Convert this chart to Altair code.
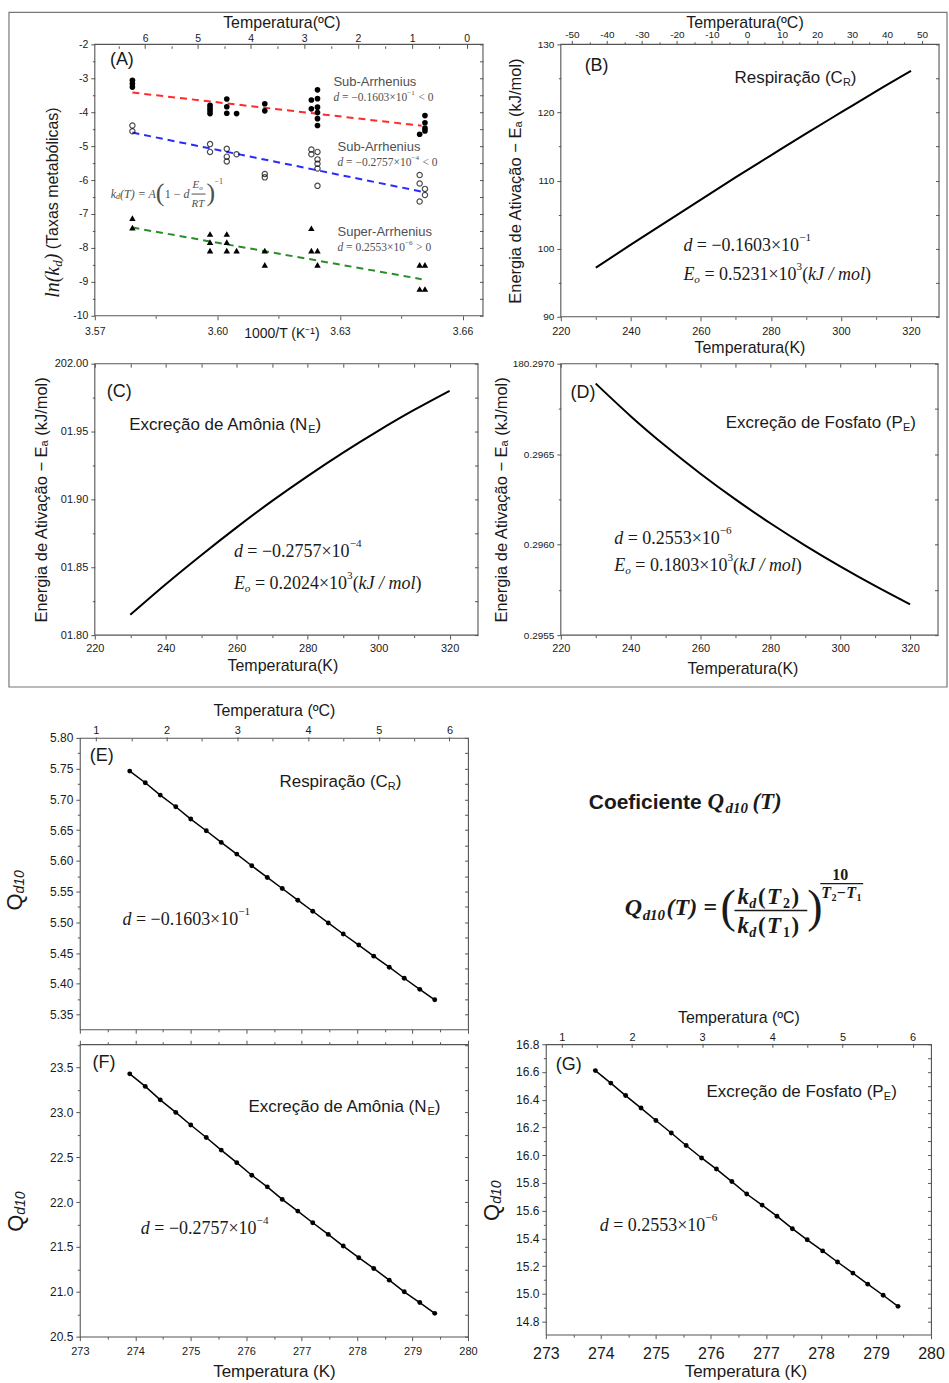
import altair as alt
import pandas as pd

SANS = "Liberation Sans"
SERIF = "Liberation Serif"
AXC = "#555555"
TXT = "#1a1a1a"
GRAY = "#505050"

# ---------------- Panel A: ln(kd) vs 1000/T ----------------
resp_x = [3.5792, 3.5792, 3.5792, 3.5982, 3.5982, 3.5982, 3.5982, 3.6023, 3.6023, 3.6023,
          3.6047, 3.6116, 3.6116, 3.6230, 3.6230, 3.6245, 3.6245, 3.6245, 3.6245, 3.6245,
          3.6245, 3.6495, 3.6508, 3.6508, 3.6508, 3.6508]
resp_y = [-3.06, -3.16, -3.26, -3.80, -3.88, -3.96, -4.04, -3.61, -3.84, -4.03,
          -4.04, -3.75, -3.96, -3.64, -3.90, -3.34, -3.60, -3.85, -4.01, -4.19,
          -4.39, -4.65, -4.10, -4.31, -4.47, -4.55]
amm_x = [3.5792, 3.5792, 3.5982, 3.5982, 3.6023, 3.6023, 3.6023, 3.6047, 3.6116, 3.6116,
         3.6230, 3.6230, 3.6245, 3.6245, 3.6245, 3.6245, 3.6245, 3.6495, 3.6495, 3.6495,
         3.6508, 3.6508]
amm_y = [-4.39, -4.56, -4.94, -5.17, -5.08, -5.31, -5.45, -5.24, -5.82, -5.92,
         -5.10, -5.24, -5.17, -5.39, -5.52, -5.66, -6.17, -5.85, -6.10, -6.63,
         -6.26, -6.44]
phos_x = [3.5792, 3.5792, 3.5982, 3.5982, 3.5982, 3.6023, 3.6023, 3.6023, 3.6047, 3.6116,
          3.6116, 3.6230, 3.6230, 3.6245, 3.6245, 3.6495, 3.6495, 3.6508, 3.6508]
phos_y = [-7.12, -7.40, -7.59, -7.83, -8.08, -7.59, -7.83, -8.08, -8.08, -8.08,
          -8.50, -7.42, -8.08, -8.08, -8.50, -8.50, -9.21, -8.50, -9.21]
fit_x = [3.5792, 3.6500]
fit_resp = [-3.42, -4.40]
fit_amm = [-4.60, -6.34]
fit_phos = [-7.40, -8.92]

# ---------------- Panels B-D: activation energy vs T ----------------
T_ea = [230, 240, 250, 260, 270, 280, 290, 300, 310, 320]
ea_resp = [97.2, 100.6, 103.9, 107.2, 110.5, 113.7, 116.9, 120.0, 123.1, 126.1]
ea_amm = [201.815, 201.8375, 201.8589, 201.8794, 201.8989, 201.9172, 201.9345, 201.9507,
          201.9659, 201.980]
ea_phos = [180.29689, 180.29671, 180.296545, 180.296392, 180.29625, 180.296118, 180.295995,
           180.29588, 180.295772, 180.29567]

# ---------------- Panels E-G: Qd10 vs T ----------------
T_q = [273.90, 274.18, 274.45, 274.73, 275.00, 275.28, 275.55, 275.83, 276.10, 276.38, 276.65,
       276.93, 277.20, 277.48, 277.75, 278.03, 278.30, 278.58, 278.85, 279.13, 279.40]
q_resp = [5.746, 5.727, 5.707, 5.688, 5.668, 5.649, 5.630, 5.611, 5.592, 5.573, 5.555,
          5.536, 5.518, 5.499, 5.481, 5.463, 5.445, 5.427, 5.409, 5.391, 5.374]
q_amm = [23.43, 23.29, 23.14, 23.00, 22.86, 22.72, 22.58, 22.44, 22.30, 22.17, 22.03,
         21.90, 21.77, 21.64, 21.51, 21.38, 21.26, 21.13, 21.00, 20.88, 20.76]
q_phos = [16.61, 16.52, 16.43, 16.34, 16.25, 16.16, 16.07, 15.98, 15.90, 15.81, 15.72,
          15.64, 15.56, 15.47, 15.39, 15.31, 15.23, 15.15, 15.07, 14.99, 14.91]

DUMMY = pd.DataFrame({"k": [0]})

_SANS = {' ': .278, '(': .333, ')': .333, '-': .333, '/': .278, '.': .278, 'º': .365,
         'A': .667, 'C': .722, 'E': .667, 'F': .611, 'K': .667, 'N': .722, 'P': .667, 'R': .722,
         'S': .667, 'T': .611, 'Q': .778, 'a': .556, 'b': .556, 'c': .5, 'ç': .5, 'd': .556,
         'e': .556, 'f': .278, 'g': .556, 'h': .556, 'i': .222, 'l': .222, 'm': .833, 'n': .556,
         'o': .556, 'ó': .556, 'ô': .556, 'ã': .556, 'p': .556, 'r': .333, 's': .5, 't': .278,
         'u': .556, 'v': .5, 'x': .5}
_SERIF = {' ': .25, '(': .333, ')': .333, '.': .25, '/': .278, '=': .564, '−': .564, '×': .564,
          '<': .564, '>': .564, 'A': .611, 'E': .611, 'R': .611, 'T': .611, 'Q': .722, 'J': .444,
          'd': .5, 'k': .444, 'l': .278, 'm': .722, 'o': .5, 'n': .5}


def S(t, size, fam="sans", style="normal", weight="normal", dy=0, adj=0.0):
    return (t, size, fam, style, weight, dy, adj)


def twidth(t, size, fam):
    tbl, dflt = (_SERIF, 0.5) if fam == "serif" else (_SANS, 0.556)
    return sum(tbl.get(ch, dflt) for ch in t) * size


def enc_for(pos):
    if pos[0] == "px":
        return dict(x=alt.value(pos[1]), y=alt.value(pos[2]))
    _, xv, yv, xs, ys = pos
    return dict(x=alt.XDatum(datum=xv, type="quantitative", scale=xs, axis=None),
                y=alt.YDatum(datum=yv, type="quantitative", scale=ys, axis=None))


def rich(segs, pos, color=TXT, angle=None, baseline="middle", gap=0.0):
    """Lays text segments side by side; leading spaces become pixel offsets."""
    out = []
    off = 0.0
    for (t, size, fam, style, weight, dy, adj) in segs:
        body = t.strip(" ")
        lead = len(t) - len(t.lstrip(" "))
        bold = 1.05 if weight == "bold" else 1.0
        if body:
            props = dict(text=body, font=SERIF if fam == "serif" else SANS,
                         fontSize=size, fontStyle=style, fontWeight=weight, align="left",
                         baseline=baseline, dx=round(off + twidth(" " * lead, size, fam), 1),
                         dy=dy, color=color)
            if angle is not None:
                props["angle"] = angle
            out.append(alt.Chart(DUMMY).mark_text(**props).encode(**enc_for(pos)))
        off += twidth(t, size, fam) * bold + gap + adj * size
    return out


def maj(step, base=0.0, expr="datum.value"):
    return f"abs(({expr}-({base}))/{step}-round(({expr}-({base}))/{step}))<0.02"


def axis(orient, values, major, lab=None, title=None, lsize=11, tsize=16, lpad=2, tpad=None,
         big=4, small=2.5, offset=None, titlex=None):
    kw = dict(orient=orient, values=values, grid=False, domain=False, ticks=True,
              tickColor=AXC, tickWidth=1,
              tickSize={"condition": {"test": major, "value": big}, "value": small},
              title=title)
    if lab is None:
        kw["labels"] = False
    else:
        kw.update(labels=True, labelExpr=f"({major}) ? ({lab}) : ''", labelFont=SANS,
                  labelFontSize=lsize, labelColor=TXT, labelPadding=lpad, labelOverlap=False,
                  labelFlush=False)
    if title is not None:
        kw.update(titleFont=SANS, titleFontSize=tsize, titleFontWeight="normal", titleColor=TXT)
    if tpad is not None:
        kw["titlePadding"] = tpad
    if offset is not None:
        kw["offset"] = offset
    if titlex is not None:
        kw["titleX"] = titlex
    return alt.Axis(**kw)


def mirror(orient, values):
    return alt.Axis(orient=orient, values=values, grid=False, domain=False, ticks=True,
                    tickColor=AXC, tickWidth=1, tickSize=3.5, offset=-3.5, labels=False,
                    title=None)


def carrier(xs, ys, xd, yd, xaxis, yaxis):
    df = pd.DataFrame({"cx": [xd[-1]], "cy": [yd[0]]})
    return alt.Chart(df).mark_point(opacity=0, size=1).encode(
        x=alt.X("cx:Q", scale=xs, axis=xaxis), y=alt.Y("cy:Q", scale=ys, axis=yaxis))


def frame(xs, ys, xd, yd):
    return alt.Chart(DUMMY).mark_rect(filled=False, stroke=AXC, strokeWidth=1.1).encode(
        x=alt.XDatum(datum=xd[0], type="quantitative", scale=xs, axis=None),
        x2=alt.X2Datum(datum=xd[1]),
        y=alt.YDatum(datum=yd[0], type="quantitative", scale=ys, axis=None),
        y2=alt.Y2Datum(datum=yd[1]))


def sc(d):
    return alt.Scale(domain=d, nice=False, zero=False)


def xy(xs, ys):
    return dict(x=alt.X("x:Q", scale=xs, axis=None), y=alt.Y("y:Q", scale=ys, axis=None))


def dline(val, exp, size, pos, tail="", color=TXT):
    return rich([S("d", size, "serif", "italic"),
                 S(" = " + val + "×10", size, "serif"),
                 S(exp, round(size * 0.62, 1), "serif", dy=-round(size * 0.42), adj=0.1),
                 S(tail, size, "serif")], pos, color=color)


def eoline(val, size, pos):
    return rich([S("E", size, "serif", "italic"),
                 S("o", round(size * 0.62, 1), "serif", "italic", dy=round(size * 0.28)),
                 S(" = " + val + "×10", size, "serif"),
                 S("3", round(size * 0.62, 1), "serif", dy=-round(size * 0.42)),
                 S("(", size, "serif"), S("kJ / mol", size, "serif", "italic"),
                 S(")", size, "serif")], pos)


def sublabel(main, sub, size, pos):
    return rich([S(main, size), S(sub, round(size * 0.66), dy=5), S(")", size)], pos)


def panel(layers, w, h, framed=False):
    ch = alt.layer(*layers).resolve_axis(x="independent", y="independent")
    if framed:
        return ch.properties(width=w, height=h, view=alt.ViewBackground(stroke="transparent"))
    return ch.properties(width=w, height=h)


SHIFT = 15  # panels A-D are widened on the left so their plot frames sit where the reference has them

# ======================= Panel A =======================
xdA, ydA = [3.57, 3.665], [-10, -2]
xsA, ysA = sc([3.57 - SHIFT * 0.095 / 389, 3.665]), sc(ydA)
A_yv = [round(-10 + 0.5 * i, 1) for i in range(17)]
axA_b = axis("bottom", [3.57, 3.585, 3.60, 3.615, 3.63, 3.645, 3.66], maj(0.03, 3.57),
             "format(datum.value,'.2f')", title="1000/T (K⁻¹)", lsize=10.5, tsize=14, lpad=7, tpad=-11)
axA_l = axis("left", A_yv, maj(1), "''+datum.value", lsize=10.5, lpad=3, offset=-SHIFT)
axA_t = axis("top", [1000 / (c / 2 + 273.15) for c in range(0, 14)],
             maj(1, 0, "(1000/datum.value-273.15)"), "''+round(1000/datum.value-273.15)",
             title="Temperatura(ºC)", lsize=10.5, tsize=16, lpad=1, tpad=3, offset=-4)
layersA = [carrier(xsA, ysA, xdA, ydA, axA_b, axA_l),
           carrier(xsA, ysA, xdA, ydA, axA_t, mirror("right", A_yv)),
           frame(xsA, ysA, xdA, ydA),
           alt.Chart(DUMMY).mark_rect(filled=False, stroke="#777777", strokeWidth=1.2).encode(
               x=alt.value(-71), x2=alt.value(869), y=alt.value(-32), y2=alt.value(644))]
for fy, colr in [(fit_resp, "#ff2a2a"), (fit_amm, "#2a2aff"), (fit_phos, "#2a8c2a")]:
    layersA.append(alt.Chart(pd.DataFrame({"x": fit_x, "y": fy})).mark_line(
        color=colr, strokeWidth=2, strokeDash=[7, 5]).encode(**xy(xsA, ysA)))
layersA.append(alt.Chart(pd.DataFrame({"x": resp_x, "y": resp_y})).mark_point(
    shape="circle", filled=True, color="black", opacity=1, size=32).encode(**xy(xsA, ysA)))
layersA.append(alt.Chart(pd.DataFrame({"x": amm_x, "y": amm_y})).mark_point(
    shape="circle", filled=False, color="black", strokeWidth=1.2, size=28).encode(**xy(xsA, ysA)))
layersA.append(alt.Chart(pd.DataFrame({"x": phos_x, "y": phos_y})).mark_point(
    shape="triangle-up", filled=True, color="black", opacity=1, size=42).encode(**xy(xsA, ysA)))
pA = lambda xv, yv: ("data", xv, yv, xsA, ysA)
layersA += rich([S("(A)", 18)], pA(3.5737, -2.47))
layersA += rich([S("Sub-Arrhenius", 13)], pA(3.6284, -3.12), color=GRAY)
layersA += dline("−0.1603", "−1", 11.5, pA(3.6284, -3.59), tail=" < 0", color=GRAY)
layersA += rich([S("Sub-Arrhenius", 13)], pA(3.6294, -5.03), color=GRAY)
layersA += dline("−0.2757", "−4", 11.5, pA(3.6294, -5.50), tail=" < 0", color=GRAY)
layersA += rich([S("Super-Arrhenius", 13)], pA(3.6294, -7.53), color=GRAY)
layersA += dline("0.2553", "−6", 11.5, pA(3.6294, -8.00), tail=" > 0", color=GRAY)
# k_d(T) formula (pixel offsets inside panel A)
FX = 31
layersA += rich([S("k", 12, "serif", "italic"), S("d", 8, "serif", "italic", dy=3),
                 S("(T) = A", 12, "serif", "italic")], ("px", FX, 150), color=GRAY)
layersA += rich([S("(", 26, "serif")], ("px", FX + 45, 149), color=GRAY)
layersA += rich([S("1 − ", 12, "serif"), S("d", 12, "serif", "italic")], ("px", FX + 54, 150), color=GRAY)
layersA += rich([S("E", 11, "serif", "italic"), S("o", 7, "serif", "italic", dy=3)], ("px", FX + 82, 141), color=GRAY)
layersA += rich([S("RT", 11, "serif", "italic")], ("px", FX + 81, 160), color=GRAY)
layersA.append(alt.Chart(DUMMY).mark_rule(color=GRAY, strokeWidth=1).encode(
    x=alt.value(FX + 81), x2=alt.value(FX + 95), y=alt.value(150)))
layersA += rich([S(")", 26, "serif")], ("px", FX + 96, 149), color=GRAY)
layersA += rich([S("−1", 8, "serif")], ("px", FX + 104, 138), color=GRAY)
# y title
layersA += rich([S("ln(k", 20, "serif", "italic"), S("d", 13, "serif", "italic", dy=5),
                 S(")", 20, "serif", "italic"), S(" (Taxas metabólicas)", 16)],
                ("px", -27, 254), angle=270)
A = panel(layersA, 389 + SHIFT, 272, framed=True)

# ======================= Panels B, C, D =======================
xdK = [220, 328]
K_ticks = list(range(220, 321, 10))
EA_TITLE = "Energia de Ativação − Eₐ (kJ/mol)"


def ea_panel(vals, yd, yvals, ymaj, ylab, lsize_y, top_axis, blpad, btpad, ytpad, annots,
             w, h, btx):
    xs, ys = sc([220 - SHIFT * 108 / w, 328]), sc(yd)
    ax_b = axis("bottom", K_ticks, maj(20, 220), "''+datum.value", title="Temperatura(K)",
                lsize=11, tsize=16, lpad=blpad, tpad=btpad, titlex=btx)
    ax_l = axis("left", yvals, ymaj, ylab, title=EA_TITLE, lsize=lsize_y, tsize=16.5, lpad=3,
                tpad=ytpad, offset=-SHIFT)
    lay = [carrier(xs, ys, xdK, yd, ax_b, ax_l),
           carrier(xs, ys, xdK, yd, top_axis, mirror("right", yvals)),
           frame(xs, ys, xdK, yd),
           alt.Chart(pd.DataFrame({"x": T_ea, "y": vals})).mark_line(
               color="black", strokeWidth=2, interpolate="natural").encode(**xy(xs, ys))]
    lay += annots(xs, ys)
    return panel(lay, w + SHIFT, h, framed=True)


axB_t = axis("top", [c + 273.15 for c in range(-50, 51, 5)], maj(10, 0, "(datum.value-273.15)"),
             "''+round(datum.value-273.15)", title="Temperatura(ºC)", lsize=10, tsize=16, lpad=1,
             tpad=-1, titlex=199)


def annB(xs, ys):
    p = lambda a, b: ("data", a, b, xs, ys)
    return (rich([S("(B)", 18)], p(226.8, 126.8)) + sublabel("Respiração (C", "R", 17, p(269.6, 125.0))
            + dline("−0.1603", "−1", 18, p(255.0, 100.4)) + eoline("0.5231", 18, p(255.0, 96.2)))


def annC(xs, ys):
    p = lambda a, b: ("data", a, b, xs, ys)
    return (rich([S("(C)", 18)], p(223.4, 201.979)) + sublabel("Excreção de Amônia (N", "E", 17, p(229.7, 201.955))
            + dline("−0.2757", "−4", 18, p(259.2, 201.861)) + eoline("0.2024", 18, p(259.2, 201.8375)))


def annD(xs, ys):
    p = lambda a, b: ("data", a, b, xs, ys)
    return (rich([S("(D)", 18)], p(222.8, 180.29684)) + sublabel("Excreção de Fosfato (P", "E", 17, p(267.2, 180.29667))
            + dline("0.2553", "−6", 18, p(235.3, 180.29603)) + eoline("0.1803", 18, p(235.3, 180.29588)))


B = ea_panel(ea_resp, [90, 130], list(range(90, 131, 5)), maj(10), "''+datum.value", 10,
             axB_t, 5, 3, 14, annB, 379, 273, 204)
C_y = [round(201.80 + 0.025 * i, 3) for i in range(9)]
C = ea_panel(ea_amm, [201.80, 202.00], C_y, maj(0.05, 201.80),
             "datum.value > 201.999 ? '202.00' : format(datum.value-200,'05.2f')", 11,
             mirror("top", K_ticks), 3, 4, 5, annC, 384, 272, 203)
D_y = [round(180.2955 + 0.00025 * i, 5) for i in range(7)]
D = ea_panel(ea_phos, [180.2955, 180.2970], D_y, maj(0.0005, 180.2955),
             "datum.value > 180.29699 ? '180.2970' : format(datum.value-180,'.4f')", 10,
             mirror("top", K_ticks), 3, 7, 3, annD, 378, 272, 197)

# ======================= Panels E, F, G =======================
xdQ = [273, 280]
Q_xv = [round(273 + 0.5 * i, 1) for i in range(15)]
CEL = "((datum.value-273.29)/1.275+1)"
Q_top_v = [273.29 + (c / 2 - 1) * 1.275 for c in range(2, 13)]


def q_title(x0, y0):
    return rich([S("Q", 22), S("d10", 14, "sans", "italic", dy=5)], ("px", x0, y0), angle=270)


def q_panel(vals, yd, yvals, ymaj, ylab, ax_b, ax_t, annots, qt, w, h):
    xs, ys = sc(xdQ), sc(yd)
    ax_l = axis("left", yvals, ymaj, ylab, lsize=12, lpad=3)
    lay = [carrier(xs, ys, xdQ, yd, ax_b, ax_l),
           carrier(xs, ys, xdQ, yd, ax_t, mirror("right", yvals)),
           alt.Chart(pd.DataFrame({"x": T_q, "y": vals})).mark_line(
               color="black", strokeWidth=1.5).encode(**xy(xs, ys)),
           alt.Chart(pd.DataFrame({"x": T_q, "y": vals})).mark_point(
               shape="circle", filled=True, color="black", opacity=1, size=24).encode(**xy(xs, ys))]
    lay += annots(xs, ys)
    lay += q_title(*qt)
    return panel(lay, w, h)


def cel_top(tx=None):
    return axis("top", Q_top_v, maj(1, 0, CEL), "''+round(" + CEL + ")",
                title="Temperatura (ºC)", lsize=11, tsize=16, lpad=1, tpad=6, titlex=tx, offset=-3)


def annE(xs, ys):
    p = lambda a, b: ("data", a, b, xs, ys)
    return (rich([S("(E)", 18)], p(273.18, 5.771)) + sublabel("Respiração (C", "R", 17, p(276.6, 5.7285))
            + dline("−0.1603", "−1", 18, p(273.77, 5.503)))


def annF(xs, ys):
    p = lambda a, b: ("data", a, b, xs, ys)
    return (rich([S("(F)", 18)], p(273.23, 23.556)) + sublabel("Excreção de Amônia (N", "E", 17, p(276.04, 23.056))
            + dline("−0.2757", "−4", 18, p(274.1, 21.70)))


def annG(xs, ys):
    p = lambda a, b: ("data", a, b, xs, ys)
    return (rich([S("(G)", 18)], p(273.18, 16.649)) + sublabel("Excreção de Fosfato (P", "E", 17, p(275.92, 16.455))
            + dline("0.2553", "−6", 18, p(273.98, 15.491)))


E_y = [round(5.35 + 0.025 * i, 3) for i in range(19)]
F_y = [round(20.5 + 0.25 * i, 2) for i in range(14)]
G_y = [round(14.8 + 0.1 * i, 1) for i in range(21)]

E = q_panel(q_resp, [5.326, 5.80], E_y, maj(0.05, 5.35), "format(datum.value,'.2f')",
            axis("bottom", Q_xv, maj(1)), cel_top(), annE, (-65, 173), 389, 292)
F = q_panel(q_amm, [20.5, 23.76], F_y, maj(0.5, 20.5), "format(datum.value,'.1f')",
            axis("bottom", Q_xv, maj(1), "''+datum.value", title="Temperatura (K)", lsize=11,
                 tsize=17, lpad=5, tpad=7),
            axis("top", Q_xv, maj(1)), annF, (-64, 188), 389, 293)
G = q_panel(q_phos, [14.706, 16.8], G_y, maj(0.2, 14.8), "format(datum.value,'.1f')",
            axis("bottom", Q_xv, maj(1), "''+datum.value", title="Temperatura (K)", lsize=16,
                 tsize=17, lpad=7, tpad=2, titlex=200),
            cel_top(), annG, (-54, 177), 386, 291)

# ======================= Formula block =======================
TL = []
TL += rich([S("Coeficiente", 21, weight="bold")], ("px", 43, 71), baseline="alphabetic")
TL += rich([S("Q", 23, "serif", "italic", "bold")], ("px", 162, 71), baseline="alphabetic")
TL += rich([S("d10", 15, "serif", "italic", "bold")], ("px", 180, 75), baseline="alphabetic")
TL += rich([S("(T)", 23, "serif", "italic", "bold")], ("px", 207, 71), baseline="alphabetic")
TL += rich([S("Q", 24, "serif", "italic", "bold")], ("px", 79, 177), baseline="alphabetic")
TL += rich([S("d10", 15, "serif", "italic", "bold")], ("px", 97, 182), baseline="alphabetic")
TL += rich([S("(T)", 24, "serif", "italic", "bold")], ("px", 121, 177), baseline="alphabetic")
TL += rich([S("=", 24, "serif", "normal", "bold")], ("px", 158, 177), baseline="alphabetic")
TL += rich([S("(", 46, "serif")], ("px", 175, 184), baseline="alphabetic")
TL += rich([S(")", 46, "serif")], ("px", 262, 184), baseline="alphabetic")
for sub, yb in [("2", 166), ("1", 196)]:
    TL += rich([S("k", 23, "serif", "italic", "bold"), S("d", 14, "serif", "italic", "bold", dy=4),
                S("(", 23, "serif", "normal", "bold"), S("T", 23, "serif", "italic", "bold"),
                S(sub, 14, "serif", "normal", "bold", dy=4), S(")", 23, "serif", "normal", "bold")],
               ("px", 192, yb), baseline="alphabetic", gap=1.2)
TL.append(alt.Chart(DUMMY).mark_rule(color=TXT, strokeWidth=1.4).encode(
    x=alt.value(189), x2=alt.value(262), y=alt.value(173)))
TL += rich([S("10", 16, "serif", "normal", "bold")], ("px", 287, 142), baseline="alphabetic")
TL.append(alt.Chart(DUMMY).mark_rule(color=TXT, strokeWidth=1.1).encode(
    x=alt.value(275), x2=alt.value(318), y=alt.value(146)))
TL += rich([S("T", 16, "serif", "italic", "bold"), S("2", 10, "serif", "normal", "bold", dy=3),
            S("−", 16, "serif", "normal", "bold"), S("T", 16, "serif", "italic", "bold"),
            S("1", 10, "serif", "normal", "bold", dy=3)], ("px", 276, 160), baseline="alphabetic")
TXTCH = alt.layer(*TL).properties(width=386, height=293, view=alt.ViewBackground(stroke="transparent"))


def spacer(h):
    return alt.Chart(DUMMY).mark_point(opacity=0, size=1).encode(
        x=alt.value(0), y=alt.value(0)).properties(
        width=1, height=h, view=alt.ViewBackground(stroke="transparent"))


chart = alt.concat(
    A, B,
    spacer(19), spacer(19),
    C, D,
    spacer(75), spacer(75),
    E, TXTCH,
    F, G,
    columns=2, bounds="flush", align="each", spacing={"row": 14, "column": 63},
).properties(
    padding={"left": 3, "top": 9, "right": 0, "bottom": 0}, background="white"
).configure_view(stroke=AXC, strokeWidth=1.1)

chart.save("out.html", embed_options={"renderer": "svg", "actions": False})
